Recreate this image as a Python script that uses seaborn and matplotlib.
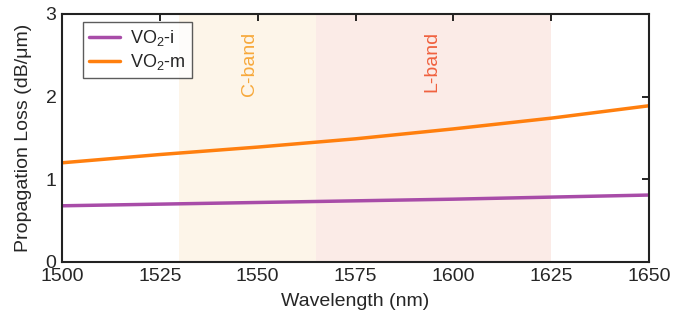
import matplotlib
matplotlib.use("Agg")
import matplotlib.pyplot as plt
import seaborn as sns
import pandas as pd

wavelength = [1500, 1525, 1550, 1575, 1600, 1625, 1650]
loss_vo2_i = [0.68, 0.70, 0.72, 0.74, 0.76, 0.785, 0.81]
loss_vo2_m = [1.20, 1.30, 1.39, 1.49, 1.61, 1.74, 1.89]
series_names = ["VO$_2$-i", "VO$_2$-m"]
colors = ["#a84ca8", "#ff7f0e"]

sns.set_theme(style="white")
plt.rcParams['font.family'] = ['Liberation Sans', 'DejaVu Sans']
plt.rcParams['mathtext.fontset'] = 'custom'
plt.rcParams['mathtext.rm'] = 'Liberation Sans'

df = pd.DataFrame({
    "Wavelength": wavelength * 2,
    "Loss": loss_vo2_i + loss_vo2_m,
    "Series": [series_names[0]] * len(wavelength) + [series_names[1]] * len(wavelength),
})

fig = plt.figure(figsize=(6.84, 3.22), dpi=100)
ax = fig.add_axes([62/684, 60/322, 587/684, 248/322])

ax.axvspan(1530, 1565, color="#fdf5e9", zorder=0, lw=0)
ax.axvspan(1565, 1625, color="#fbebe7", zorder=0, lw=0)
ax.text(1548, 2.79, "C-band", rotation=90, ha="center", va="top", color="#f7a93c", fontsize=14)
ax.text(1594.5, 2.79, "L-band", rotation=90, ha="center", va="top", color="#f0613f", fontsize=14)

sns.lineplot(data=df, x="Wavelength", y="Loss", hue="Series", palette=colors, lw=2.5, ax=ax)

ax.set_xlim(1500, 1650)
ax.set_ylim(0, 3)
ax.set_xticks([1500, 1525, 1550, 1575, 1600, 1625, 1650])
ax.set_yticks([0, 1, 2, 3])
ax.set_xlabel("Wavelength (nm)", fontsize=14, labelpad=6)
ax.set_ylabel("Propagation Loss (dB/μm)", fontsize=14, labelpad=10)
ax.tick_params(direction="in", top=True, right=True, length=5, width=1.2, labelsize=14,
               color="black", pad=4)
for s in ax.spines.values():
    s.set_color("#222222")
    s.set_linewidth(1.5)

leg = ax.legend(loc="upper left", bbox_to_anchor=(0.035, 0.968), fontsize=13, frameon=True,
                fancybox=False, edgecolor="#333333", handlelength=1.7, borderpad=0.35,
                labelspacing=0.2, handletextpad=0.6, borderaxespad=0)
leg.get_frame().set_linewidth(1.0)
leg.set_title(None)

fig.savefig("out.png", dpi=100)
